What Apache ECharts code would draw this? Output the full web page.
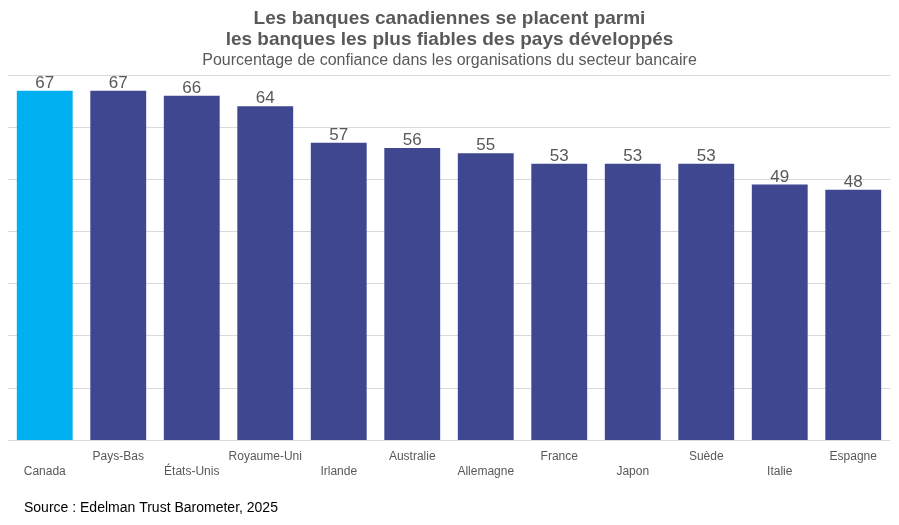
<!DOCTYPE html>
<html>
<head>
<meta charset="utf-8">
<script src="https://cdn.jsdelivr.net/npm/echarts@6/dist/echarts.min.js"></script>
<style>
  html, body { margin: 0; padding: 0; background: #fff; }
  #chart { width: 899px; height: 525px; }
</style>
</head>
<body>
<div id="chart"></div>
<script>
// données
var pays = ['Canada', 'Pays-Bas', 'États-Unis', 'Royaume-Uni', 'Irlande', 'Australie',
            'Allemagne', 'France', 'Japon', 'Suède', 'Italie', 'Espagne'];
var confiance = [67, 67, 66, 64, 57, 56, 55, 53, 53, 53, 49, 48];
var couleurCanada = '#00B0F0';
var couleurAutres = '#3F4791';

var charts = echarts.init(document.getElementById('chart'));

var option = {
    backgroundColor: '#fff',
    textStyle: { fontFamily: 'Liberation Sans, Arial, sans-serif' },
    title: {
        text: 'Les banques canadiennes se placent parmi\nles banques les plus fiables des pays développés',
        subtext: 'Pourcentage de confiance dans les organisations du secteur bancaire',
        left: 'center',
        top: 8,
        padding: 0,
        itemGap: 2,
        textStyle: {
            fontSize: 19,
            fontWeight: 'bold',
            color: '#595959',
            lineHeight: 21
        },
        subtextStyle: {
            fontSize: 16,
            color: '#595959',
            lineHeight: 18
        }
    },
    graphic: [{
        type: 'text',
        left: 24,
        top: 501,
        style: {
            text: 'Source : Edelman Trust Barometer, 2025',
            fontSize: 14,
            fill: '#000',
            fontFamily: 'Liberation Sans, Arial, sans-serif'
        }
    }],
    grid: {
        left: 8,
        right: 9,
        top: 75,
        bottom: 85
    },
    xAxis: [{
        type: 'category',
        data: pays,
        axisLine: { show: true, lineStyle: { color: '#D9D9D9' } },
        axisTick: { show: false },
        axisLabel: {
            interval: 0,
            margin: 11,
            color: '#595959',
            fontSize: 12,
            formatter: function (v, i) {
                return i % 2 === 0 ? '{lo|' + v + '}' : '{hi|' + v + '}';
            },
            rich: {
                hi: { fontSize: 12, color: '#595959' },
                lo: { fontSize: 12, color: '#595959', padding: [15, 0, 0, 0] }
            }
        }
    }],
    yAxis: [{
        type: 'value',
        min: 0,
        max: 70,
        interval: 10,
        axisLabel: { show: false },
        axisLine: { show: false },
        axisTick: { show: false },
        splitLine: { lineStyle: { color: '#D9D9D9' } }
    }],
    series: [{
        type: 'bar',
        barCategoryGap: '24%',
        data: confiance.map(function (v, i) {
            return { value: v, itemStyle: { color: i === 0 ? couleurCanada : couleurAutres } };
        }),
        label: {
            show: true,
            position: 'top',
            distance: 1,
            offset: [0, 2],
            fontSize: 17,
            color: '#595959'
        }
    }]
};

//渲染图表
if (option && typeof option === "object") {
    charts.setOption(option, true);
}
</script>
</body>
</html>
